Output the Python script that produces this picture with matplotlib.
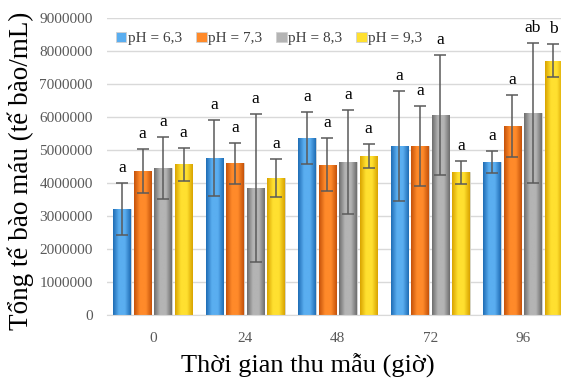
import numpy as np
import matplotlib
matplotlib.use('Agg')
import matplotlib.pyplot as plt
from matplotlib.colors import LinearSegmentedColormap

plt.rcParams['font.family'] = ['Liberation Serif', 'DejaVu Serif']

# data (cells/mL)
times = ['0', '24', '48', '72', '96']
series = ['pH = 6,3', 'pH = 7,3', 'pH = 8,3', 'pH = 9,3']
ph63 = [3210000, 4760000, 5360000, 5120000, 4640000]
ph73 = [4360000, 4600000, 4550000, 5120000, 5730000]
ph83 = [4450000, 3850000, 4640000, 6060000, 6120000]
ph93 = [4570000, 4150000, 4820000, 4330000, 7700000]
err63 = [800000, 1150000, 780000, 1680000, 330000]
err73 = [670000, 620000, 800000, 1220000, 940000]
err83 = [940000, 2240000, 1570000, 1820000, 2130000]
err93 = [500000, 590000, 360000, 350000, 500000]
lab63 = ['a', 'a', 'a', 'a', 'a']
lab73 = ['a', 'a', 'a', 'a', 'a']
lab83 = ['a', 'a', 'a', 'a', 'ab']
lab93 = ['a', 'a', 'a', 'a', 'b']

values = [ph63, ph73, ph83, ph93]
errors = [err63, err73, err83, err93]
letters = [lab63, lab73, lab83, lab93]

# (dark edge, light centre) per series
shades = [('#1f6db5', '#5aaef0'), ('#c5520a', '#ff8a2a'),
          ('#6e6e6e', '#b4b4b4'), ('#d9a400', '#ffe030')]

fig = plt.figure(figsize=(5.61, 3.79), dpi=100)
ax = fig.add_axes([0.19, 0.169, 0.824, 0.7836])

x = np.arange(len(times))
width = 0.19
step = 0.222

handles = []
for i in range(4):
    pos = x + (i - 1.5) * step
    dark, light = shades[i]
    bars = ax.bar(pos, values[i], width, color=light, edgecolor='#d0d0d0',
                  linewidth=0.6, zorder=2, label=series[i])
    cmap = LinearSegmentedColormap.from_list('g%d' % i, [dark, light, light, dark])
    grad = np.linspace(0, 1, 64).reshape(1, -1)
    for b in bars:
        x0, w, h = b.get_x(), b.get_width(), b.get_height()
        im = ax.imshow(grad, cmap=cmap, aspect='auto', extent=[x0, x0 + w, 0, h],
                       zorder=2.1)
        im.set_clip_path(b)
    ax.errorbar(pos, values[i], yerr=errors[i], fmt='none', ecolor='#5a5a5a',
                elinewidth=1.1, capsize=4, capthick=1.1, zorder=3)
    for px, v, e, t in zip(pos, values[i], errors[i], letters[i]):
        ax.annotate(t, (px, v + e), xytext=(0, 5), textcoords='offset points',
                    ha='center', va='bottom', fontsize=12.5, color='black')
    handles.append(bars)

ax.set_xlim(-0.5, 4.5)
ax.set_ylim(0, 9000000)
ax.set_yticks(np.arange(0, 9000001, 1000000))
ax.set_yticklabels([str(v) for v in range(0, 9000001, 1000000)])
ax.set_xticks(x)
ax.set_xticklabels(times)
ax.grid(axis='y', color='#d9d9d9', linewidth=1, zorder=0)
ax.set_axisbelow(True)
for s in ['top', 'right', 'left']:
    ax.spines[s].set_visible(False)
ax.spines['bottom'].set_color('#d9d9d9')
ax.tick_params(axis='both', length=0, labelsize=11, labelcolor='#595959')
ax.tick_params(axis='x', pad=12)
ax.tick_params(axis='y', pad=10)

ax.set_ylabel('Tổng tế bào máu (tế bào/mL)', fontsize=19.5)
ax.set_xlabel('Thời gian thu mẫu (giờ)', fontsize=19)
ax.yaxis.set_label_coords(-0.158, 0.485)
ax.xaxis.set_label_coords(0.435, -0.13)

leg = ax.legend(handles=handles, loc='upper left', bbox_to_anchor=(0.0, 0.985),
                ncol=4, frameon=False, fontsize=11, handlelength=0.7,
                handleheight=0.7, handletextpad=0.1, columnspacing=0.9,
                borderaxespad=0.2)
for t in leg.get_texts():
    t.set_color('#404040')

fig.savefig('out.png', dpi=100)
